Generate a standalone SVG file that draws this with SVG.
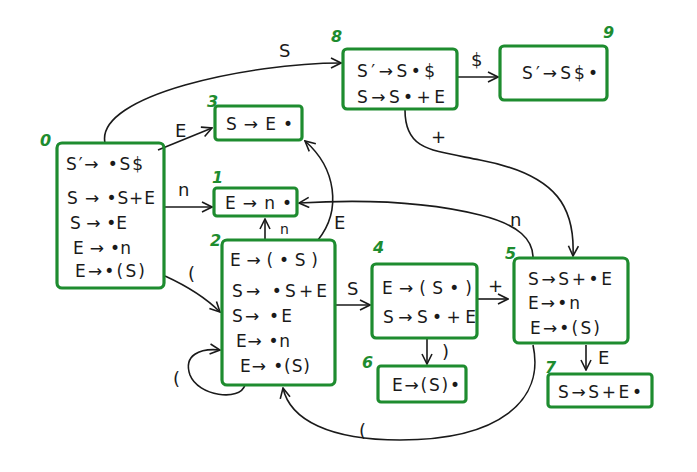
<svg xmlns="http://www.w3.org/2000/svg" width="697" height="472" viewBox="0 0 697 472">
<style>
.box{fill:none;stroke:#1e8c2f;stroke-width:3.2}
.t{font-family:"DejaVu Sans","Liberation Sans",sans-serif;font-size:17px;fill:#1a1a1a}
.num{font-family:"DejaVu Sans","Liberation Sans",sans-serif;font-size:16px;font-weight:bold;font-style:italic;fill:#1e8c2f}
.lab{font-family:"DejaVu Sans","Liberation Sans",sans-serif;font-size:18px;fill:#1a1a1a}
.e{fill:none;stroke:#1a1a1a;stroke-width:1.6;marker-end:url(#ah)}
</style>
<defs>
<marker id="ah" viewBox="0 0 12 12" refX="11" refY="6" markerWidth="12" markerHeight="12" markerUnits="userSpaceOnUse" orient="auto">
<path d="M1,1 L11,6 L1,11" fill="none" stroke="#1a1a1a" stroke-width="1.6"/>
</marker>
</defs>
<rect width="697" height="472" fill="#ffffff"/>
<g id="connectors">
<path class="e" d="M105,143 C95,95 250,63 341,63"/>
<text class="lab" x="279" y="57">S</text>
<path class="e" d="M158,150 L212,128"/>
<text class="lab" x="175" y="137">E</text>
<path class="e" d="M165,207 L212,207"/>
<text class="lab" x="178" y="196">n</text>
<path class="e" d="M165,276 Q200,292 220,312"/>
<text class="lab" x="188" y="280">(</text>
<path class="e" d="M245,385 C240,402 198,396 190,375 C183,355 200,348 220,350"/>
<text class="lab" x="173" y="385">(</text>
<path class="e" d="M265,240 L265,219"/>
<text class="lab" x="280" y="234" style="font-size:14px">n</text>
<path class="e" d="M318,240 C342,210 336,168 305,141"/>
<text class="lab" x="334" y="229">E</text>
<path class="e" d="M336,305 L370,305"/>
<text class="lab" x="347" y="295">S</text>
<path class="e" d="M457,77 L498,77"/>
<text class="lab" x="471" y="66">$</text>
<path class="e" d="M405,110 C405,150 430,150 480,160 C560,175 575,210 573,256"/>
<text class="lab" x="431" y="143">+</text>
<path class="e" d="M478,299 L508,299"/>
<text class="lab" x="488" y="292">+</text>
<path class="e" d="M427,338 L427,364"/>
<text class="lab" x="442" y="358">)</text>
<path class="e" d="M586,345 L586,370"/>
<text class="lab" x="598" y="364">E</text>
<path class="e" d="M533,258 C533,240 520,225 480,215 C420,200 350,200 299,203"/>
<text class="lab" x="510" y="226">n</text>
<path class="e" d="M533,345 C545,400 500,440 400,440 C330,440 290,420 283,388"/>
<text class="lab" x="359" y="437">(</text>
</g>
<g id="node0">
<rect class="box" x="57" y="143" width="107" height="145" rx="5"/>
<text class="num" x="40" y="146">0</text>
<text class="t" x="66" y="170" textLength="77" lengthAdjust="spacing">S′→ •S$</text>
<text class="t" x="67" y="204" textLength="88" lengthAdjust="spacing">S → •S+E</text>
<text class="t" x="70" y="229" textLength="57" lengthAdjust="spacing">S → •E</text>
<text class="t" x="73" y="254" textLength="58" lengthAdjust="spacing">E → •n</text>
<text class="t" x="75" y="277" textLength="70" lengthAdjust="spacing">E→•(S)</text>
</g>
<g id="node3">
<rect class="box" x="215" y="106" width="87" height="34" rx="3"/>
<text class="num" x="207" y="107">3</text>
<text class="t" x="226" y="130" textLength="67" lengthAdjust="spacing">S→E•</text>
</g>
<g id="node1">
<rect class="box" x="214" y="188" width="83" height="28" rx="3"/>
<text class="num" x="212" y="183">1</text>
<text class="t" x="225" y="209" textLength="67" lengthAdjust="spacing">E→n•</text>
</g>
<g id="node2">
<rect class="box" x="222" y="240" width="113" height="145" rx="5"/>
<text class="num" x="210" y="246">2</text>
<text class="t" x="230" y="266" textLength="88" lengthAdjust="spacing">E→(•S)</text>
<text class="t" x="232" y="297" textLength="95" lengthAdjust="spacing">S→ •S+E</text>
<text class="t" x="232" y="322" textLength="60" lengthAdjust="spacing">S→ •E</text>
<text class="t" x="236" y="347" textLength="54" lengthAdjust="spacing">E→ •n</text>
<text class="t" x="240" y="372" textLength="70" lengthAdjust="spacing">E→ •(S)</text>
</g>
<g id="node8">
<rect class="box" x="343" y="49" width="114" height="60" rx="4"/>
<text class="num" x="331" y="42">8</text>
<text class="t" x="357" y="77" textLength="78" lengthAdjust="spacing">S′→S•$</text>
<text class="t" x="357" y="103" textLength="88" lengthAdjust="spacing">S→S•+E</text>
</g>
<g id="node9">
<rect class="box" x="500" y="46" width="107" height="54" rx="4"/>
<text class="num" x="603" y="38">9</text>
<text class="t" x="522" y="79" textLength="76" lengthAdjust="spacing">S′→S$•</text>
</g>
<g id="node4">
<rect class="box" x="372" y="264" width="105" height="74" rx="4"/>
<text class="num" x="373" y="253">4</text>
<text class="t" x="382" y="294" textLength="90" lengthAdjust="spacing">E→(S•)</text>
<text class="t" x="383" y="323" textLength="93" lengthAdjust="spacing">S→S•+E</text>
</g>
<g id="node6">
<rect class="box" x="378" y="366" width="88" height="36" rx="3"/>
<text class="num" x="362" y="368">6</text>
<text class="t" x="392" y="391" textLength="68" lengthAdjust="spacing">E→(S)•</text>
</g>
<g id="node5">
<rect class="box" x="514" y="258" width="114" height="85" rx="5"/>
<text class="num" x="505" y="259">5</text>
<text class="t" x="528" y="285" textLength="84" lengthAdjust="spacing">S→S+•E</text>
<text class="t" x="528" y="309" textLength="52" lengthAdjust="spacing">E→•n</text>
<text class="t" x="530" y="334" textLength="70" lengthAdjust="spacing">E→•(S)</text>
</g>
<g id="node7">
<rect class="box" x="548" y="374" width="104" height="33" rx="3"/>
<text class="num" x="545" y="373">7</text>
<text class="t" x="558" y="398" textLength="84" lengthAdjust="spacing">S→S+E•</text>
</g>
</svg>
